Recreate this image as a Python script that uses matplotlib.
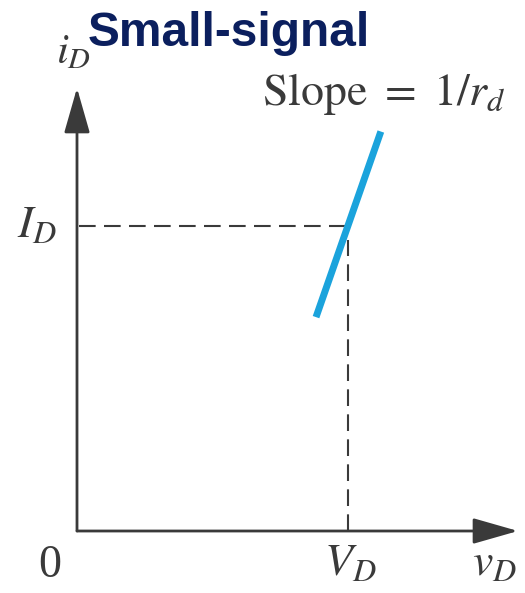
import numpy as np
import matplotlib.pyplot as plt

plt.rcParams['mathtext.fontset'] = 'stix'

# operating point and small-signal tangent (normalised axes units)
V_D = 0.614
I_D = 0.688
slope = 2.85
tangent_x = [0.542, 0.689]

ink = '#3a3a3a'

fig = plt.figure(figsize=(5.25, 5.93), dpi=100)
W, H = 525, 593
x0, y0 = 77, 531          # origin in pixels
x1, y1 = 518, 88          # arrow tips
ax = fig.add_axes([x0 / W, (H - y0) / H, (x1 - x0) / W, (y0 - y1) / H])
ax.set_xlim(0, 1)
ax.set_ylim(0, 1)
ax.axis('off')

# axes with arrowheads
head = '-|>,head_length=2.8,head_width=0.8'
ax.annotate('', xy=(1.0, 0), xytext=(0, 0),
            arrowprops=dict(arrowstyle=head, color=ink, lw=2, shrinkA=0, shrinkB=0))
ax.annotate('', xy=(0, 1.0), xytext=(0, 0),
            arrowprops=dict(arrowstyle=head, color=ink, lw=2, shrinkA=0, shrinkB=0))

# dashed projections of the operating point
ax.plot([0.005, V_D], [I_D, I_D], ls=(0, (8, 4)), color=ink, lw=1.5)
ax.plot([V_D, V_D], [0, I_D - 0.03], ls=(0, (8, 4)), color=ink, lw=1.5)

# tangent line
tx = np.array(tangent_x)
ty = I_D + slope * (tx - V_D)
ax.plot(tx, ty, color='#1ba3dc', lw=5, solid_capstyle='butt')

# labels (positions in pixels, baseline aligned)
def label(px, py, s, size=33, **kw):
    fig.text(px / W, 1 - py / H, s, fontsize=size, color=ink,
             ha='left', va='baseline', **kw)

label(38, 577, '0', family='Liberation Serif')
label(324, 575, r'$V_D$')
label(472, 575, r'$v_D$')
label(17, 237, r'$I_D$')
label(56, 63, r'$i_D$', size=31)
label(262, 105, r'$\mathrm{Slope}\ =\ 1/r_d$')

fig.text(88 / W, 1 - 46 / H, 'Small-signal', fontsize=34.5, fontweight='bold',
         color='#0b1f5e', family='Liberation Sans', ha='left', va='baseline')

fig.savefig('out.png', dpi=100)
